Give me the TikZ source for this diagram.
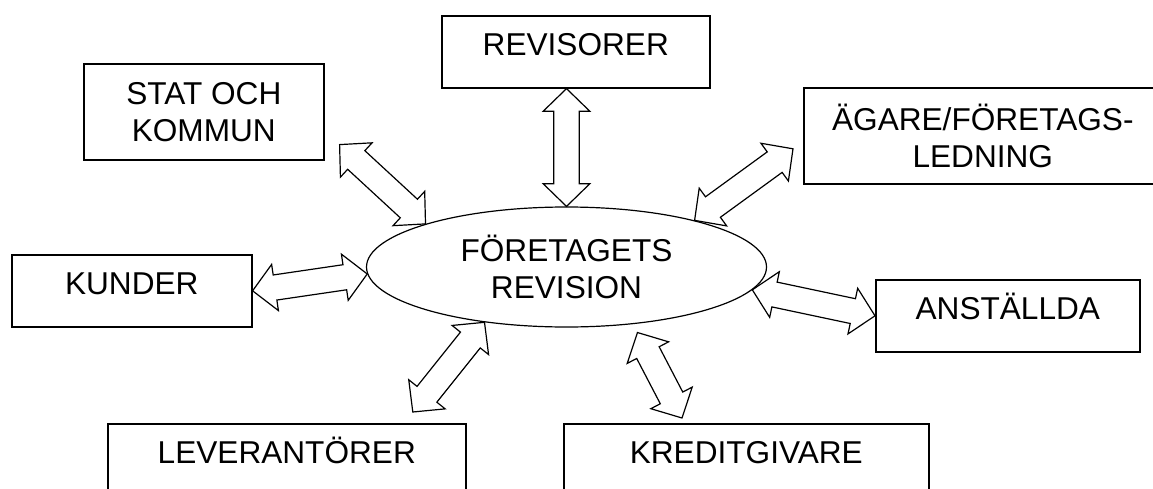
\documentclass[tikz,border=0pt]{standalone}
\usepackage{fontspec}
\setmainfont{Liberation Sans}
\usetikzlibrary{calc,positioning,shapes.geometric}
\tikzset{
  ram/.style={
    draw,
    line width=1.2pt,
    anchor=north west,
    align=center,
    inner sep=0pt,
    font=\fontsize{23.7}{27.5}\selectfont
  },
  ruta/.style={
    ram,
    text height=30pt,
    text depth=24pt
  },
  tvarad/.style={
    ram,
    minimum height=72pt
  },
  ellips/.style={
    ellipse,
    draw,
    line width=0.9pt,
    align=center,
    inner sep=0pt,
    minimum width=300pt,
    minimum height=90pt,
    font=\fontsize{23.7}{27.5}\selectfont
  },
  dubbelpil/.style={
    draw,
    line width=0.9pt,
    to path={
      -- ($(\tikztostart)!17pt!(\tikztotarget)!17.5pt!90:(\tikztotarget)$)
      -- ($(\tikztostart)!17pt!(\tikztotarget)!9.5pt!90:(\tikztotarget)$)
      -- ($(\tikztotarget)!17pt!(\tikztostart)!9.5pt!-90:(\tikztostart)$)
      -- ($(\tikztotarget)!17pt!(\tikztostart)!17.5pt!-90:(\tikztostart)$)
      -- (\tikztotarget)
      -- ($(\tikztotarget)!17pt!(\tikztostart)!17.5pt!90:(\tikztostart)$)
      -- ($(\tikztotarget)!17pt!(\tikztostart)!9.5pt!90:(\tikztostart)$)
      -- ($(\tikztostart)!17pt!(\tikztotarget)!9.5pt!-90:(\tikztotarget)$)
      -- ($(\tikztostart)!17pt!(\tikztotarget)!17.5pt!-90:(\tikztotarget)$)
      -- cycle
    }
  }
}

\begin{document}
\begin{tikzpicture}[x=0.75pt,y=-0.75pt]
\useasboundingbox (0,0) rectangle (1153,489);
\node[ellips] (ftg) at (566.5,267) {FÖRETAGETS\\REVISION};
\node[ruta,minimum width=201pt] (rev) at (441,15) {REVISORER};
\node[tvarad,minimum width=180pt] (stat) at (83,63) {STAT OCH\\KOMMUN};
\node[tvarad,minimum width=268.5pt] (agare) at (803,87) {ÄGARE/FÖRETAGS-\\LEDNING};
\node[ruta,minimum width=180pt] (kund) at (11,254) {KUNDER};
\node[ruta,minimum width=198pt] (anst) at (875,279) {ANSTÄLLDA};
\node[ruta,text depth=45pt,minimum width=268.5pt] (lev) at (107,423) {LEVERANTÖRER};
\node[ruta,text depth=45pt,minimum width=273.75pt] (kred) at (563,423) {KREDITGIVARE};
\coordinate (revpil) at (ftg.north |- rev.south);
\coordinate (statpil) at ($(stat.south east)+(15,-16)$);
\coordinate (agarepil) at ($(agare.west)+(-10,13)$);
\coordinate (levpil) at ($(lev.north)+(126,-11)$);
\coordinate (kredpil1) at ($(ftg.-40)+(3,8.5)$);
\coordinate (kredpil2) at ($(kred.north west)+(119,-5)$);
\draw[dubbelpil] (ftg.north) to (revpil);
\draw[dubbelpil] (statpil) to (ftg.163);
\draw[dubbelpil] (ftg.20) to (agarepil);
\draw[dubbelpil] (kund.east) to (ftg.182);
\draw[dubbelpil] (ftg.-7) to (anst.west);
\draw[dubbelpil] (ftg.214) to (levpil);
\draw[dubbelpil] (kredpil1) to (kredpil2);
\end{tikzpicture}
\end{document}
